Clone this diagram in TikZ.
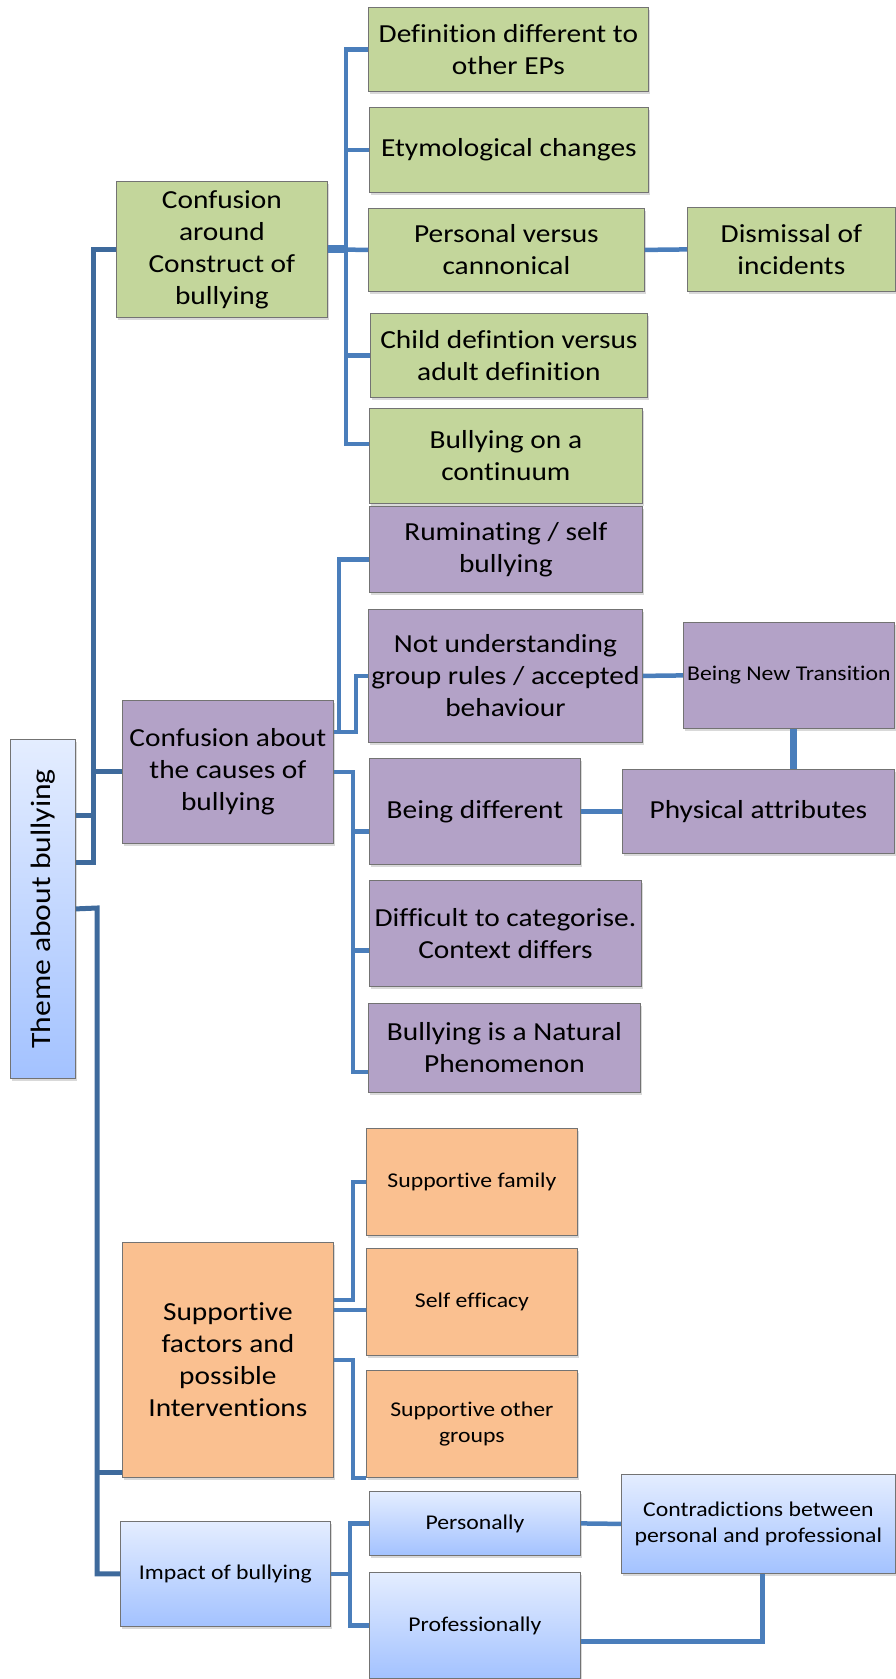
\documentclass[tikz,border=0pt]{standalone}
\usepackage{fontspec}
\setmainfont{Carlito}[FakeStretch=1.13, Ligatures=NoCommon]
\usepackage{graphicx}
\usetikzlibrary{shadows}
\definecolor{greenfill}{HTML}{C3D69B}
\definecolor{purplefill}{HTML}{B3A2C7}
\definecolor{orangefill}{HTML}{FAC090}
\definecolor{bluetop}{HTML}{E4EDFF}
\definecolor{bluebot}{HTML}{A3C2FF}
\definecolor{linkcolor}{HTML}{4A7EBB}
\definecolor{trunkcolor}{HTML}{3E6A9C}
\tikzset{
  card/.style={draw=black!55, line width=0.8pt, anchor=north west, align=center, inner sep=2pt,
    drop shadow={shadow xshift=1.5pt, shadow yshift=-3pt, opacity=0.3}},
  wh/.style 2 args={minimum width=#1pt, minimum height=#2pt},
  big/.style={font=\fontsize{26}{32}\selectfont},
  small/.style={font=\fontsize{21}{26}\selectfont},
  gcard/.style={card, big, fill=greenfill},
  pcard/.style={card, big, fill=purplefill},
  ocard/.style={card, fill=orangefill},
  bcard/.style={card, small, top color=bluetop, bottom color=bluebot},
  link/.style={draw=linkcolor, line width=4.5pt},
  trunk/.style={draw=trunkcolor, line width=5pt},
}
\begin{document}
\begin{tikzpicture}[x=1pt, y=-1pt]
\useasboundingbox (0,0) rectangle (896,1679);
% root
\node[bcard, font=\fontsize{28}{34}\selectfont, wh={65}{339}] (root) at (10,739) {\rotatebox{90}{Theme about bullying}};
% construct of bullying
\node[gcard, wh={211}{136}] (g0) at (116,181) {Confusion\\around\\Construct of\\bullying};
\node[gcard, wh={280}{84}] (g1) at (368,7) {Definition different to\\other EPs};
\node[gcard, wh={279}{85}] (g2) at (369,107) {Etymological changes};
\node[gcard, wh={276}{83}] (g3) at (368,208) {Personal versus\\cannonical};
\node[gcard, wh={208}{84}] (dism) at (687,207) {Dismissal of\\incidents};
\node[gcard, wh={277}{84}] (g4) at (370,313) {Child defintion versus\\adult definition};
\node[gcard, wh={273}{95}] (g5) at (369,408) {Bullying on a\\continuum};
% causes of bullying
\node[pcard, wh={211}{143}] (p0) at (122,700) {Confusion about\\the causes of\\bullying};
\node[pcard, wh={273}{86}] (p1) at (369,506) {Ruminating / self\\bullying};
\node[pcard, wh={274}{133}] (p2) at (368,609) {Not understanding\\group rules / accepted\\behaviour};
\node[pcard, small, wh={211}{106}] (newtr) at (683,622) {Being New Transition};
\node[pcard, wh={272}{84}] (phys) at (622,769) {Physical attributes};
\node[pcard, wh={211}{106}] (p5) at (369,758) {Being different};
\node[pcard, wh={272}{106}] (p6) at (369,880) {Difficult to categorise.\\Context differs};
\node[pcard, wh={272}{89}] (p7) at (368,1003) {Bullying is a Natural\\Phenomenon};
% supportive factors
\node[ocard, big, wh={211}{235}] (o0) at (122,1242) {Supportive\\factors and\\possible\\Interventions};
\node[ocard, small, wh={211}{107}] (o1) at (366,1128) {Supportive family};
\node[ocard, small, wh={211}{107}] (o2) at (366,1248) {Self efficacy};
\node[ocard, small, wh={211}{107}] (o3) at (366,1370) {Supportive other\\groups};
% impact
\node[bcard, wh={210}{105}] (b0) at (120,1521) {Impact of bullying};
\node[bcard, wh={211}{64}] (b1) at (369,1491) {Personally};
\node[bcard, wh={211}{106}] (b2) at (369,1572) {Professionally};
\node[bcard, wh={274}{99}] (b3) at (621,1474) {Contradictions between\\personal and professional};
% root links
\coordinate (ja) at (93,862);
\coordinate (jb) at (93,815);
\coordinate (jc) at (97,908);
\draw[trunk] (root.east |- ja) -- (ja) |- (g0.west);
\draw[trunk] (root.east |- jb) -- (jb);
\draw[trunk] (jb |- p0.west) -- (p0.west);
\draw[trunk] (root.east) -- (jc) |- (b0.west);
\draw[trunk] (jc |- 0,1472) -- (o0.west |- 0,1472);
% construct links
\coordinate (gbus) at (346,0);
\coordinate (g5in) at ([yshift=12pt]g5.west);
\draw[link, line width=8pt] (g0.east) -- (gbus |- g0.east);
\draw[link] (g0.east) -- (g3.west);
\draw[link] (g1.west) -| (gbus |- g5in) -- (g5in);
\draw[link] (gbus |- g2.west) -- (g2.west);
\draw[link] (gbus |- g4.west) -- (g4.west);
\draw[link] (g3.east) -- (dism.west);
% causes links
\draw[link] ([yshift=40pt]p0.east) -- ++(5,0) |- ([yshift=-10pt]p1.west);
\draw[link] ([yshift=40pt]p0.east) -- ++(22,0) |- (p2.west);
\draw[link] (p0.east) -- ++(19,0) |- ([yshift=-24pt]p7.west);
\draw[link] (p0.east) -- ++(19,0) |- ([yshift=-20pt]p5.west);
\draw[link] (p0.east) -- ++(19,0) |- ([yshift=-17pt]p6.west);
\draw[link] (p2.east) -- (newtr.west);
\draw[link, line width=7pt] ([xshift=5pt]newtr.south) -- ([xshift=5pt]newtr.south |- phys.north);
\draw[link] (p5.east) -- (phys.west);
% supportive links
\draw[link] ([yshift=60pt]o0.east) -- ++(19,0) |- (o1.west);
\draw[link] ([yshift=50pt]o0.east) -- ([yshift=50pt]o0.east -| o2.west);
\draw[link] (o0.east) -- ++(19,0) |- ([yshift=-54pt]o3.west);
% impact links
\draw[link] (b0.east) -- ++(19,0) |- (b1.west);
\draw[link] (b0.east) -- ++(19,0) |- (b2.west);
\draw[link] (b1.east) -- (b3.west);
\draw[link] ([yshift=-16pt]b2.east) -| ([xshift=4pt]b3.south);
\end{tikzpicture}
\end{document}
